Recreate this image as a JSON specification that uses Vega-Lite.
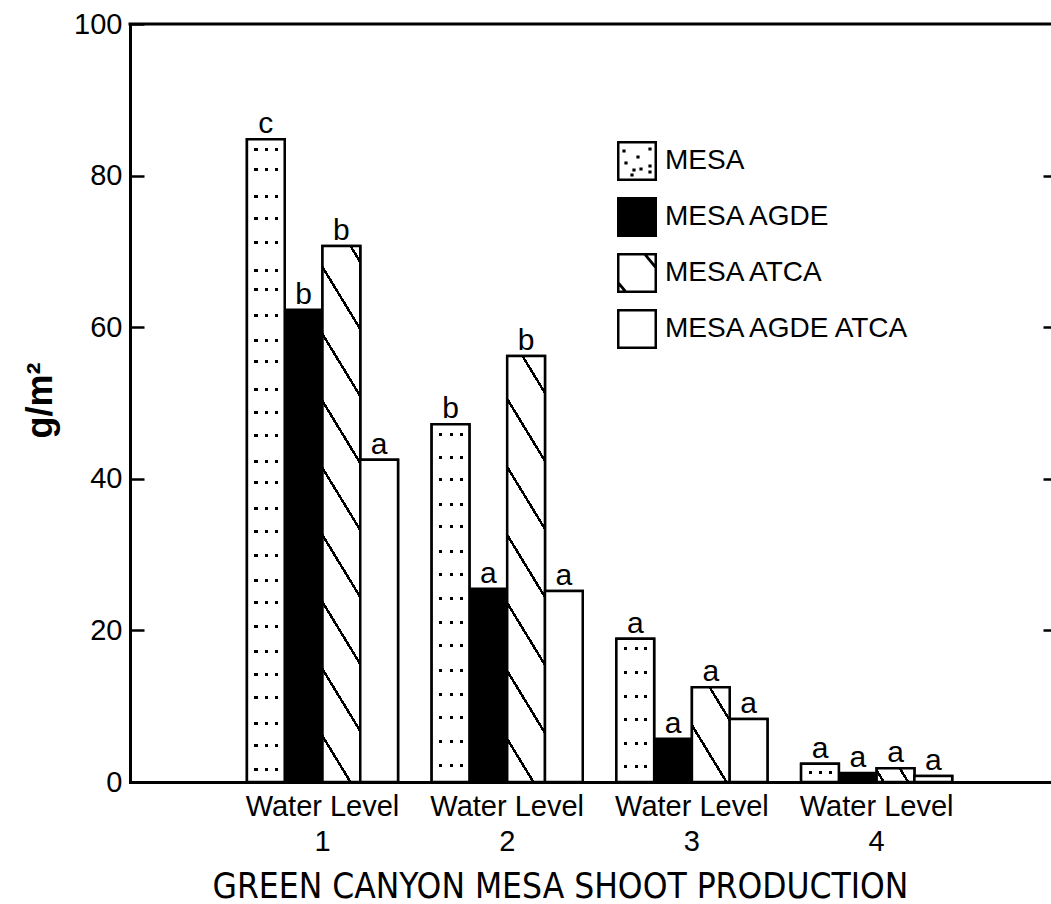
{
"$schema": "https://vega.github.io/schema/vega-lite/v6.json",
"autosize": "none",
"padding": {"left": 130, "top": 24, "right": 0, "bottom": 122},
"width": 921,
"height": 758,
"config": {"view": {"stroke": null}, "font": "Liberation Sans", "background": "white"},
"data": {"values": [
{"wl":"1","cat":"MESA","value":84.8,"sig":"c"},
{"wl":"1","cat":"MESA AGDE","value":62.3,"sig":"b"},
{"wl":"1","cat":"MESA ATCA","value":70.7,"sig":"b"},
{"wl":"1","cat":"MESA AGDE ATCA","value":42.5,"sig":"a"},
{"wl":"2","cat":"MESA","value":47.2,"sig":"b"},
{"wl":"2","cat":"MESA AGDE","value":25.5,"sig":"a"},
{"wl":"2","cat":"MESA ATCA","value":56.2,"sig":"b"},
{"wl":"2","cat":"MESA AGDE ATCA","value":25.2,"sig":"a"},
{"wl":"3","cat":"MESA","value":18.9,"sig":"a"},
{"wl":"3","cat":"MESA AGDE","value":5.7,"sig":"a"},
{"wl":"3","cat":"MESA ATCA","value":12.5,"sig":"a"},
{"wl":"3","cat":"MESA AGDE ATCA","value":8.3,"sig":"a"},
{"wl":"4","cat":"MESA","value":2.4,"sig":"a"},
{"wl":"4","cat":"MESA AGDE","value":1.2,"sig":"a"},
{"wl":"4","cat":"MESA ATCA","value":1.8,"sig":"a"},
{"wl":"4","cat":"MESA AGDE ATCA","value":0.8,"sig":"a"}
]},
"resolve": {"axis": {"y": "independent"}},
"layer": [
{
"mark": {"type": "bar", "stroke": "black", "strokeWidth": 2.5},
"encoding": {
"x": {"field": "wl", "type": "nominal",
 "scale": {"paddingInner": 0.182, "paddingOuter": 0.584, "align": 0.542},
 "axis": {"domain": true, "domainColor": "black", "domainWidth": 3, "domainCap": "square", "ticks": false, "tickSize": 0, "labelAngle": 0,
  "labelExpr": "['Water Level', datum.label]", "labelFont": "Liberation Sans", "labelFontSize": 29, "labelColor": "black", "labelLineHeight": 35, "labelBaseline": "alphabetic", "labelPadding": 33,
  "title": "GREEN CANYON MESA SHOOT PRODUCTION", "titleFont": "DejaVu Sans Condensed", "titleFontSize": 35, "titleFontWeight": "normal", "titleColor": "black", "titleX": 430, "titleY": 115, "titleAlign": "center", "titleBaseline": "alphabetic"}},
"xOffset": {"field": "cat", "type": "nominal", "scale": {"domain": ["MESA","MESA AGDE","MESA ATCA","MESA AGDE ATCA"]}},
"y": {"field": "value", "type": "quantitative", "scale": {"domain": [0, 100], "nice": false},
 "axis": {"values": [0,20,40,60,80,100], "domain": true, "domainColor": "black", "domainWidth": 3, "domainCap": "square", "ticks": true, "tickSize": -14, "tickWidth": 2.5, "tickColor": "black",
  "labelFont": "Liberation Sans", "labelFontSize": 29, "labelColor": "black", "labelPadding": 22, "grid": false,
  "title": "g/m²", "titleFont": "Liberation Sans", "titleFontSize": 36, "titleFontWeight": "bold", "titleColor": "black", "titleX": -90, "titleY": 376, "titleAngle": -90, "titleAlign": "center", "titleBaseline": "middle"}},
"fill": {"field": "cat", "type": "nominal",
 "scale": {"domain": ["MESA","MESA AGDE","MESA ATCA","MESA AGDE ATCA"], "range": ["black","black","black","black"]},
 "legend": {"orient": "none", "legendX": 487, "legendY": 117, "title": null, "padding": 0, "symbolSize": 1600, "symbolStrokeWidth": 0, "rowPadding": 16, "labelOffset": 8,
  "labelFont": "Liberation Sans", "labelFontSize": 28, "labelColor": "black", "labelLimit": 400,
  "symbolType": {"expr": "datum.value === 'MESA' ? 'M-1,-1L1,-1L1,1L-1,1ZM-0.875,-0.875L-0.875,0.875L0.875,0.875L0.875,-0.875ZM-0.73,-0.58h0.16v0.16h-0.16ZM0.57,-0.68h0.16v0.16h-0.16ZM-0.03,-0.28h0.16v0.16h-0.16ZM-0.63,0.02h0.16v0.16h-0.16ZM-0.23,0.37h0.16v0.16h-0.16ZM0.12,0.32h0.16v0.16h-0.16ZM-0.33,0.62h0.16v0.16h-0.16ZM0.57,0.17h0.16v0.16h-0.16ZM0.57,0.47h0.16v0.16h-0.16Z' : datum.value === 'MESA AGDE' ? 'square' : datum.value === 'MESA ATCA' ? 'M-1,-1L1,-1L1,1L-1,1ZM-0.875,-0.875L-0.875,0.875L0.875,0.875L0.875,-0.875ZM0.25,-1L0.43,-1L1,-0.31L1,-0.09ZM-1,0.3L-0.42,1L-0.605,1L-1,0.52Z' : 'M-1,-1L1,-1L1,1L-1,1ZM-0.875,-0.875L-0.875,0.875L0.875,0.875L0.875,-0.875Z'"}}
}
}
},
{
"transform": [{"filter": "datum.cat === 'MESA'"}],
"mark": {"type": "bar", "stroke": null, "strokeWidth": 0, "fill": {"gradient": "linear", "x1": 0, "y1": 0, "x2": 1, "y2": 0, "stops": [
{"offset":0,"color":"#fff"},{"offset":0.2,"color":"#fff"},{"offset":0.2,"color":"#000"},{"offset":0.28,"color":"#000"},{"offset":0.28,"color":"#fff"},
{"offset":0.48,"color":"#fff"},{"offset":0.48,"color":"#000"},{"offset":0.56,"color":"#000"},{"offset":0.56,"color":"#fff"},
{"offset":0.74,"color":"#fff"},{"offset":0.74,"color":"#000"},{"offset":0.82,"color":"#000"},{"offset":0.82,"color":"#fff"},{"offset":1,"color":"#fff"}]}},
"encoding": {
"x": {"field": "wl", "type": "nominal"},
"xOffset": {"field": "cat", "type": "nominal", "scale": {"domain": ["MESA","MESA AGDE","MESA ATCA","MESA AGDE ATCA"]}},
"y": {"field": "value", "type": "quantitative", "axis": null}
}
},
{
"transform": [{"filter": "datum.cat === 'MESA' && datum.wl === '1'"}],
"mark": {"type": "bar", "stroke": "black", "strokeWidth": 2.5, "fill": {"gradient": "linear", "x1": 0, "y1": 0, "x2": 0, "y2": 1, "stops": [
{"offset":0,"color":"#fff"},
{"offset":0.0132,"color":"#fff"},{"offset":0.0132,"color":"rgba(255,255,255,0)"},{"offset":0.0180,"color":"rgba(255,255,255,0)"},{"offset":0.0180,"color":"#fff"},
{"offset":0.0443,"color":"#fff"},{"offset":0.0443,"color":"rgba(255,255,255,0)"},{"offset":0.0491,"color":"rgba(255,255,255,0)"},{"offset":0.0491,"color":"#fff"},
{"offset":0.0863,"color":"#fff"},{"offset":0.0863,"color":"rgba(255,255,255,0)"},{"offset":0.0911,"color":"rgba(255,255,255,0)"},{"offset":0.0911,"color":"#fff"},
{"offset":0.1205,"color":"#fff"},{"offset":0.1205,"color":"rgba(255,255,255,0)"},{"offset":0.1253,"color":"rgba(255,255,255,0)"},{"offset":0.1253,"color":"#fff"},
{"offset":0.1578,"color":"#fff"},{"offset":0.1578,"color":"rgba(255,255,255,0)"},{"offset":0.1626,"color":"rgba(255,255,255,0)"},{"offset":0.1626,"color":"#fff"},
{"offset":0.2014,"color":"#fff"},{"offset":0.2014,"color":"rgba(255,255,255,0)"},{"offset":0.2062,"color":"rgba(255,255,255,0)"},{"offset":0.2062,"color":"#fff"},
{"offset":0.2310,"color":"#fff"},{"offset":0.2310,"color":"rgba(255,255,255,0)"},{"offset":0.2358,"color":"rgba(255,255,255,0)"},{"offset":0.2358,"color":"#fff"},
{"offset":0.2714,"color":"#fff"},{"offset":0.2714,"color":"rgba(255,255,255,0)"},{"offset":0.2762,"color":"rgba(255,255,255,0)"},{"offset":0.2762,"color":"#fff"},
{"offset":0.3103,"color":"#fff"},{"offset":0.3103,"color":"rgba(255,255,255,0)"},{"offset":0.3151,"color":"rgba(255,255,255,0)"},{"offset":0.3151,"color":"#fff"},
{"offset":0.3430,"color":"#fff"},{"offset":0.3430,"color":"rgba(255,255,255,0)"},{"offset":0.3478,"color":"rgba(255,255,255,0)"},{"offset":0.3478,"color":"#fff"},
{"offset":0.3865,"color":"#fff"},{"offset":0.3865,"color":"rgba(255,255,255,0)"},{"offset":0.3913,"color":"rgba(255,255,255,0)"},{"offset":0.3913,"color":"#fff"},
{"offset":0.4223,"color":"#fff"},{"offset":0.4223,"color":"rgba(255,255,255,0)"},{"offset":0.4271,"color":"rgba(255,255,255,0)"},{"offset":0.4271,"color":"#fff"},
{"offset":0.4581,"color":"#fff"},{"offset":0.4581,"color":"rgba(255,255,255,0)"},{"offset":0.4629,"color":"rgba(255,255,255,0)"},{"offset":0.4629,"color":"#fff"},
{"offset":0.4985,"color":"#fff"},{"offset":0.4985,"color":"rgba(255,255,255,0)"},{"offset":0.5033,"color":"rgba(255,255,255,0)"},{"offset":0.5033,"color":"#fff"},
{"offset":0.5312,"color":"#fff"},{"offset":0.5312,"color":"rgba(255,255,255,0)"},{"offset":0.5360,"color":"rgba(255,255,255,0)"},{"offset":0.5360,"color":"#fff"},
{"offset":0.5717,"color":"#fff"},{"offset":0.5717,"color":"rgba(255,255,255,0)"},{"offset":0.5765,"color":"rgba(255,255,255,0)"},{"offset":0.5765,"color":"#fff"},
{"offset":0.6074,"color":"#fff"},{"offset":0.6074,"color":"rgba(255,255,255,0)"},{"offset":0.6122,"color":"rgba(255,255,255,0)"},{"offset":0.6122,"color":"#fff"},
{"offset":0.6448,"color":"#fff"},{"offset":0.6448,"color":"rgba(255,255,255,0)"},{"offset":0.6496,"color":"rgba(255,255,255,0)"},{"offset":0.6496,"color":"#fff"},
{"offset":0.6837,"color":"#fff"},{"offset":0.6837,"color":"rgba(255,255,255,0)"},{"offset":0.6885,"color":"rgba(255,255,255,0)"},{"offset":0.6885,"color":"#fff"},
{"offset":0.7179,"color":"#fff"},{"offset":0.7179,"color":"rgba(255,255,255,0)"},{"offset":0.7227,"color":"rgba(255,255,255,0)"},{"offset":0.7227,"color":"#fff"},
{"offset":0.7552,"color":"#fff"},{"offset":0.7552,"color":"rgba(255,255,255,0)"},{"offset":0.7600,"color":"rgba(255,255,255,0)"},{"offset":0.7600,"color":"#fff"},
{"offset":0.7941,"color":"#fff"},{"offset":0.7941,"color":"rgba(255,255,255,0)"},{"offset":0.7989,"color":"rgba(255,255,255,0)"},{"offset":0.7989,"color":"#fff"},
{"offset":0.8299,"color":"#fff"},{"offset":0.8299,"color":"rgba(255,255,255,0)"},{"offset":0.8347,"color":"rgba(255,255,255,0)"},{"offset":0.8347,"color":"#fff"},
{"offset":0.8657,"color":"#fff"},{"offset":0.8657,"color":"rgba(255,255,255,0)"},{"offset":0.8705,"color":"rgba(255,255,255,0)"},{"offset":0.8705,"color":"#fff"},
{"offset":0.9061,"color":"#fff"},{"offset":0.9061,"color":"rgba(255,255,255,0)"},{"offset":0.9109,"color":"rgba(255,255,255,0)"},{"offset":0.9109,"color":"#fff"},
{"offset":0.9404,"color":"#fff"},{"offset":0.9404,"color":"rgba(255,255,255,0)"},{"offset":0.9452,"color":"rgba(255,255,255,0)"},{"offset":0.9452,"color":"#fff"},
{"offset":0.9777,"color":"#fff"},{"offset":0.9777,"color":"rgba(255,255,255,0)"},{"offset":0.9825,"color":"rgba(255,255,255,0)"},{"offset":0.9825,"color":"#fff"},
{"offset":1,"color":"#fff"}]}},
"encoding": {
"x": {"field": "wl", "type": "nominal"},
"xOffset": {"field": "cat", "type": "nominal", "scale": {"domain": ["MESA","MESA AGDE","MESA ATCA","MESA AGDE ATCA"]}},
"y": {"field": "value", "type": "quantitative", "axis": null}
}
},
{
"transform": [{"filter": "datum.cat === 'MESA' && datum.wl === '2'"}],
"mark": {"type": "bar", "stroke": "black", "strokeWidth": 2.5, "fill": {"gradient": "linear", "x1": 0, "y1": 0, "x2": 0, "y2": 1, "stops": [
{"offset":0,"color":"#fff"},
{"offset":0.0238,"color":"#fff"},{"offset":0.0238,"color":"rgba(255,255,255,0)"},{"offset":0.0322,"color":"rgba(255,255,255,0)"},{"offset":0.0322,"color":"#fff"},
{"offset":0.0880,"color":"#fff"},{"offset":0.0880,"color":"rgba(255,255,255,0)"},{"offset":0.0964,"color":"rgba(255,255,255,0)"},{"offset":0.0964,"color":"#fff"},
{"offset":0.1495,"color":"#fff"},{"offset":0.1495,"color":"rgba(255,255,255,0)"},{"offset":0.1579,"color":"rgba(255,255,255,0)"},{"offset":0.1579,"color":"#fff"},
{"offset":0.2194,"color":"#fff"},{"offset":0.2194,"color":"rgba(255,255,255,0)"},{"offset":0.2278,"color":"rgba(255,255,255,0)"},{"offset":0.2278,"color":"#fff"},
{"offset":0.2809,"color":"#fff"},{"offset":0.2809,"color":"rgba(255,255,255,0)"},{"offset":0.2893,"color":"rgba(255,255,255,0)"},{"offset":0.2893,"color":"#fff"},
{"offset":0.3508,"color":"#fff"},{"offset":0.3508,"color":"rgba(255,255,255,0)"},{"offset":0.3592,"color":"rgba(255,255,255,0)"},{"offset":0.3592,"color":"#fff"},
{"offset":0.4150,"color":"#fff"},{"offset":0.4150,"color":"rgba(255,255,255,0)"},{"offset":0.4234,"color":"rgba(255,255,255,0)"},{"offset":0.4234,"color":"#fff"},
{"offset":0.4821,"color":"#fff"},{"offset":0.4821,"color":"rgba(255,255,255,0)"},{"offset":0.4905,"color":"rgba(255,255,255,0)"},{"offset":0.4905,"color":"#fff"},
{"offset":0.5492,"color":"#fff"},{"offset":0.5492,"color":"rgba(255,255,255,0)"},{"offset":0.5576,"color":"rgba(255,255,255,0)"},{"offset":0.5576,"color":"#fff"},
{"offset":0.6135,"color":"#fff"},{"offset":0.6135,"color":"rgba(255,255,255,0)"},{"offset":0.6219,"color":"rgba(255,255,255,0)"},{"offset":0.6219,"color":"#fff"},
{"offset":0.6833,"color":"#fff"},{"offset":0.6833,"color":"rgba(255,255,255,0)"},{"offset":0.6917,"color":"rgba(255,255,255,0)"},{"offset":0.6917,"color":"#fff"},
{"offset":0.7504,"color":"#fff"},{"offset":0.7504,"color":"rgba(255,255,255,0)"},{"offset":0.7588,"color":"rgba(255,255,255,0)"},{"offset":0.7588,"color":"#fff"},
{"offset":0.8147,"color":"#fff"},{"offset":0.8147,"color":"rgba(255,255,255,0)"},{"offset":0.8231,"color":"rgba(255,255,255,0)"},{"offset":0.8231,"color":"#fff"},
{"offset":0.8818,"color":"#fff"},{"offset":0.8818,"color":"rgba(255,255,255,0)"},{"offset":0.8902,"color":"rgba(255,255,255,0)"},{"offset":0.8902,"color":"#fff"},
{"offset":0.9489,"color":"#fff"},{"offset":0.9489,"color":"rgba(255,255,255,0)"},{"offset":0.9573,"color":"rgba(255,255,255,0)"},{"offset":0.9573,"color":"#fff"},
{"offset":1,"color":"#fff"}]}},
"encoding": {
"x": {"field": "wl", "type": "nominal"},
"xOffset": {"field": "cat", "type": "nominal", "scale": {"domain": ["MESA","MESA AGDE","MESA ATCA","MESA AGDE ATCA"]}},
"y": {"field": "value", "type": "quantitative", "axis": null}
}
},
{
"transform": [{"filter": "datum.cat === 'MESA' && datum.wl === '3'"}],
"mark": {"type": "bar", "stroke": "black", "strokeWidth": 2.5, "fill": {"gradient": "linear", "x1": 0, "y1": 0, "x2": 0, "y2": 1, "stops": [
{"offset":0,"color":"#fff"},
{"offset":0.0593,"color":"#fff"},{"offset":0.0593,"color":"rgba(255,255,255,0)"},{"offset":0.0803,"color":"rgba(255,255,255,0)"},{"offset":0.0803,"color":"#fff"},
{"offset":0.2268,"color":"#fff"},{"offset":0.2268,"color":"rgba(255,255,255,0)"},{"offset":0.2478,"color":"rgba(255,255,255,0)"},{"offset":0.2478,"color":"#fff"},
{"offset":0.3943,"color":"#fff"},{"offset":0.3943,"color":"rgba(255,255,255,0)"},{"offset":0.4153,"color":"rgba(255,255,255,0)"},{"offset":0.4153,"color":"#fff"},
{"offset":0.5548,"color":"#fff"},{"offset":0.5548,"color":"rgba(255,255,255,0)"},{"offset":0.5758,"color":"rgba(255,255,255,0)"},{"offset":0.5758,"color":"#fff"},
{"offset":0.7222,"color":"#fff"},{"offset":0.7222,"color":"rgba(255,255,255,0)"},{"offset":0.7432,"color":"rgba(255,255,255,0)"},{"offset":0.7432,"color":"#fff"},
{"offset":0.8827,"color":"#fff"},{"offset":0.8827,"color":"rgba(255,255,255,0)"},{"offset":0.9037,"color":"rgba(255,255,255,0)"},{"offset":0.9037,"color":"#fff"},
{"offset":1,"color":"#fff"}]}},
"encoding": {
"x": {"field": "wl", "type": "nominal"},
"xOffset": {"field": "cat", "type": "nominal", "scale": {"domain": ["MESA","MESA AGDE","MESA ATCA","MESA AGDE ATCA"]}},
"y": {"field": "value", "type": "quantitative", "axis": null}
}
},
{
"transform": [{"filter": "datum.cat === 'MESA' && datum.wl === '4'"}],
"mark": {"type": "bar", "stroke": "black", "strokeWidth": 2.5, "fill": {"gradient": "linear", "x1": 0, "y1": 0, "x2": 0, "y2": 1, "stops": [
{"offset":0,"color":"#fff"},
{"offset":0.4121,"color":"#fff"},{"offset":0.4121,"color":"rgba(255,255,255,0)"},{"offset":0.5769,"color":"rgba(255,255,255,0)"},{"offset":0.5769,"color":"#fff"},
{"offset":1,"color":"#fff"}]}},
"encoding": {
"x": {"field": "wl", "type": "nominal"},
"xOffset": {"field": "cat", "type": "nominal", "scale": {"domain": ["MESA","MESA AGDE","MESA ATCA","MESA AGDE ATCA"]}},
"y": {"field": "value", "type": "quantitative", "axis": null}
}
},
{
"transform": [{"filter": "datum.cat === 'MESA ATCA' && datum.wl === '1'"}],
"mark": {"type": "bar", "stroke": "black", "strokeWidth": 2.5, "fill": {"gradient": "linear", "x1": 1, "y1": 0, "x2": 0.87263, "y2": 1.10096, "stops": [
{"offset":0,"color":"#fff"},
{"offset":0.0227,"color":"#fff"},{"offset":0.0227,"color":"#000"},{"offset":0.0308,"color":"#000"},{"offset":0.0308,"color":"#fff"},
{"offset":0.1348,"color":"#fff"},{"offset":0.1348,"color":"#000"},{"offset":0.1428,"color":"#000"},{"offset":0.1428,"color":"#fff"},
{"offset":0.2469,"color":"#fff"},{"offset":0.2469,"color":"#000"},{"offset":0.2549,"color":"#000"},{"offset":0.2549,"color":"#fff"},
{"offset":0.3589,"color":"#fff"},{"offset":0.3589,"color":"#000"},{"offset":0.3670,"color":"#000"},{"offset":0.3670,"color":"#fff"},
{"offset":0.4710,"color":"#fff"},{"offset":0.4710,"color":"#000"},{"offset":0.4790,"color":"#000"},{"offset":0.4790,"color":"#fff"},
{"offset":0.5830,"color":"#fff"},{"offset":0.5830,"color":"#000"},{"offset":0.5911,"color":"#000"},{"offset":0.5911,"color":"#fff"},
{"offset":0.6951,"color":"#fff"},{"offset":0.6951,"color":"#000"},{"offset":0.7031,"color":"#000"},{"offset":0.7031,"color":"#fff"},
{"offset":0.8072,"color":"#fff"},{"offset":0.8072,"color":"#000"},{"offset":0.8152,"color":"#000"},{"offset":0.8152,"color":"#fff"},
{"offset":0.9192,"color":"#fff"},{"offset":0.9192,"color":"#000"},{"offset":0.9272,"color":"#000"},{"offset":0.9272,"color":"#fff"},
{"offset":1,"color":"#fff"}]}},
"encoding": {
"x": {"field": "wl", "type": "nominal"},
"xOffset": {"field": "cat", "type": "nominal", "scale": {"domain": ["MESA","MESA AGDE","MESA ATCA","MESA AGDE ATCA"]}},
"y": {"field": "value", "type": "quantitative", "axis": null}
}
},
{
"transform": [{"filter": "datum.cat === 'MESA ATCA' && datum.wl === '2'"}],
"mark": {"type": "bar", "stroke": "black", "strokeWidth": 2.5, "fill": {"gradient": "linear", "x1": 1, "y1": 0, "x2": 0.83674, "y2": 1.12178, "stops": [
{"offset":0,"color":"#fff"},
{"offset":0.0709,"color":"#fff"},{"offset":0.0709,"color":"#000"},{"offset":0.0807,"color":"#000"},{"offset":0.0807,"color":"#fff"},
{"offset":0.2102,"color":"#fff"},{"offset":0.2102,"color":"#000"},{"offset":0.2201,"color":"#000"},{"offset":0.2201,"color":"#fff"},
{"offset":0.3496,"color":"#fff"},{"offset":0.3496,"color":"#000"},{"offset":0.3594,"color":"#000"},{"offset":0.3594,"color":"#fff"},
{"offset":0.4889,"color":"#fff"},{"offset":0.4889,"color":"#000"},{"offset":0.4988,"color":"#000"},{"offset":0.4988,"color":"#fff"},
{"offset":0.6283,"color":"#fff"},{"offset":0.6283,"color":"#000"},{"offset":0.6381,"color":"#000"},{"offset":0.6381,"color":"#fff"},
{"offset":0.7676,"color":"#fff"},{"offset":0.7676,"color":"#000"},{"offset":0.7775,"color":"#000"},{"offset":0.7775,"color":"#fff"},
{"offset":0.9070,"color":"#fff"},{"offset":0.9070,"color":"#000"},{"offset":0.9168,"color":"#000"},{"offset":0.9168,"color":"#fff"},
{"offset":1,"color":"#fff"}]}},
"encoding": {
"x": {"field": "wl", "type": "nominal"},
"xOffset": {"field": "cat", "type": "nominal", "scale": {"domain": ["MESA","MESA AGDE","MESA ATCA","MESA AGDE ATCA"]}},
"y": {"field": "value", "type": "quantitative", "axis": null}
}
},
{
"transform": [{"filter": "datum.cat === 'MESA ATCA' && datum.wl === '3'"}],
"mark": {"type": "bar", "stroke": "black", "strokeWidth": 2.5, "fill": {"gradient": "linear", "x1": 1, "y1": 0, "x2": 0.24202, "y2": 1.15837, "stops": [
{"offset":0,"color":"#fff"},
{"offset":0.1952,"color":"#fff"},{"offset":0.1952,"color":"#000"},{"offset":0.2258,"color":"#000"},{"offset":0.2258,"color":"#fff"},
{"offset":0.6226,"color":"#fff"},{"offset":0.6226,"color":"#000"},{"offset":0.6533,"color":"#000"},{"offset":0.6533,"color":"#fff"},
{"offset":1,"color":"#fff"}]}},
"encoding": {
"x": {"field": "wl", "type": "nominal"},
"xOffset": {"field": "cat", "type": "nominal", "scale": {"domain": ["MESA","MESA AGDE","MESA ATCA","MESA AGDE ATCA"]}},
"y": {"field": "value", "type": "quantitative", "axis": null}
}
},
{
"transform": [{"filter": "datum.cat === 'MESA ATCA' && datum.wl === '4'"}],
"mark": {"type": "bar", "stroke": "black", "strokeWidth": 2.5, "fill": {"gradient": "linear", "x1": 1, "y1": 0, "x2": -0.16369, "y2": 0.25601, "stops": [
{"offset":0,"color":"#fff"},
{"offset":0.2856,"color":"#fff"},{"offset":0.2856,"color":"#000"},{"offset":0.3490,"color":"#000"},{"offset":0.3490,"color":"#fff"},
{"offset":0.8144,"color":"#fff"},{"offset":0.8144,"color":"#000"},{"offset":0.8778,"color":"#000"},{"offset":0.8778,"color":"#fff"},
{"offset":1,"color":"#fff"}]}},
"encoding": {
"x": {"field": "wl", "type": "nominal"},
"xOffset": {"field": "cat", "type": "nominal", "scale": {"domain": ["MESA","MESA AGDE","MESA ATCA","MESA AGDE ATCA"]}},
"y": {"field": "value", "type": "quantitative", "axis": null}
}
},
{
"transform": [{"filter": "datum.cat === 'MESA AGDE ATCA'"}],
"mark": {"type": "bar", "stroke": "black", "strokeWidth": 2.5, "fill": "white"},
"encoding": {
"x": {"field": "wl", "type": "nominal"},
"xOffset": {"field": "cat", "type": "nominal", "scale": {"domain": ["MESA","MESA AGDE","MESA ATCA","MESA AGDE ATCA"]}},
"y": {"field": "value", "type": "quantitative", "axis": null}
}
},
{
"mark": {"type": "text", "baseline": "alphabetic", "dy": -6, "font": "Liberation Sans", "fontSize": 30, "color": "black"},
"encoding": {
"x": {"field": "wl", "type": "nominal"},
"xOffset": {"field": "cat", "type": "nominal", "scale": {"domain": ["MESA","MESA AGDE","MESA ATCA","MESA AGDE ATCA"]}},
"y": {"field": "value", "type": "quantitative", "axis": null},
"text": {"field": "sig"}
}
},
{
"data": {"values": [{"top": 100}]},
"mark": {"type": "rule", "color": "black", "strokeWidth": 3, "strokeCap": "square"},
"encoding": {
"y": {"field": "top", "type": "quantitative",
 "axis": {"orient": "right", "values": [20,40,60,80], "domain": false, "ticks": true, "tickSize": -8, "tickWidth": 2.5, "tickColor": "black", "labels": false, "grid": false, "title": null}}
}
}
]
}
